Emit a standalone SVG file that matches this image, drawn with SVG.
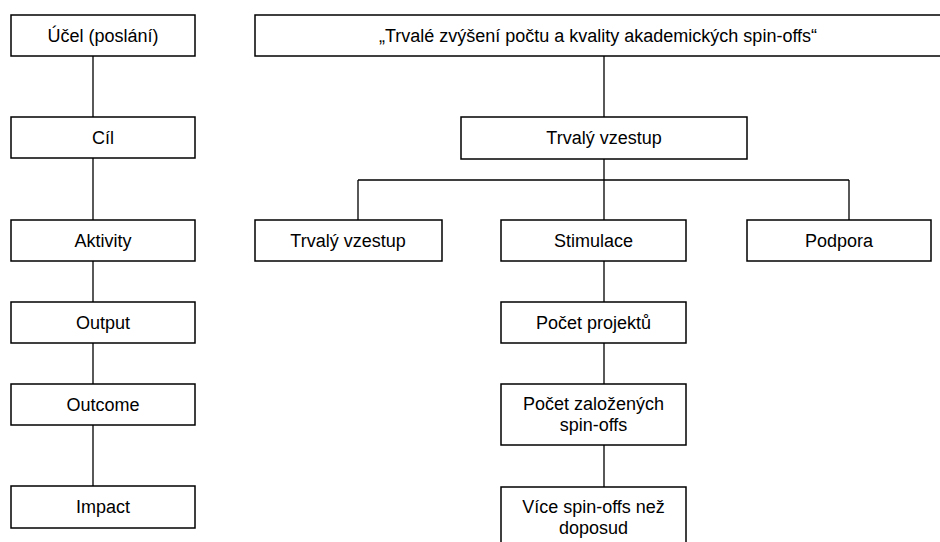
<svg xmlns="http://www.w3.org/2000/svg" width="940" height="542" viewBox="0 0 940 542">
<style>
.box{fill:#fff;stroke:#000;stroke-width:1.5}
.ln{stroke:#000;stroke-width:1.3;fill:none}
text{font-family:"Liberation Sans",Arial,sans-serif;font-size:18px;fill:#000;text-anchor:middle}
</style>
<rect width="940" height="542" fill="#fff"/>
<g id="connectors">
<path class="ln" d="M93 56V117M93 158V220M93 261V302M93 343V384M93 425V486"/>
<path class="ln" d="M604 56V117M604 159V220M358 180H849M358 180V220M849 180V220M604 261V302M604 343V384M604 445V487"/>
</g>
<g id="n-ucel"><rect class="box" x="11" y="15" width="184" height="41"/><text x="103" y="42">Účel (poslání)</text></g>
<g id="n-cil"><rect class="box" x="11" y="117" width="184" height="41"/><text x="103" y="144">Cíl</text></g>
<g id="n-aktivity"><rect class="box" x="11" y="220" width="184" height="41"/><text x="103" y="247">Aktivity</text></g>
<g id="n-output"><rect class="box" x="11" y="302" width="184" height="41"/><text x="103" y="329">Output</text></g>
<g id="n-outcome"><rect class="box" x="11" y="384" width="184" height="41"/><text x="103" y="411">Outcome</text></g>
<g id="n-impact"><rect class="box" x="11" y="486" width="184" height="42"/><text x="103" y="513">Impact</text></g>
<g id="n-top"><rect class="box" x="255" y="15" width="686" height="41"/><text x="598" y="42">„Trvalé zvýšení počtu a kvality akademických spin-offs“</text></g>
<g id="n-vzestup"><rect class="box" x="461" y="117" width="286" height="42"/><text x="604" y="144">Trvalý vzestup</text></g>
<g id="n-vzestup2"><rect class="box" x="255" y="220" width="187" height="41"/><text x="348" y="247">Trvalý vzestup</text></g>
<g id="n-stimulace"><rect class="box" x="501" y="220" width="185" height="41"/><text x="593.5" y="247">Stimulace</text></g>
<g id="n-podpora"><rect class="box" x="747" y="220" width="184" height="41"/><text x="839" y="247">Podpora</text></g>
<g id="n-projekty"><rect class="box" x="501" y="302" width="185" height="41"/><text x="593.5" y="329">Počet projektů</text></g>
<g id="n-zalozene"><rect class="box" x="501" y="384" width="185" height="61"/><text x="593.5" y="410">Počet založených</text><text x="593.5" y="431">spin-offs</text></g>
<g id="n-vice"><rect class="box" x="501" y="487" width="185" height="70"/><text x="593.5" y="513">Více spin-offs než</text><text x="593.5" y="534">doposud</text></g>
</svg>
